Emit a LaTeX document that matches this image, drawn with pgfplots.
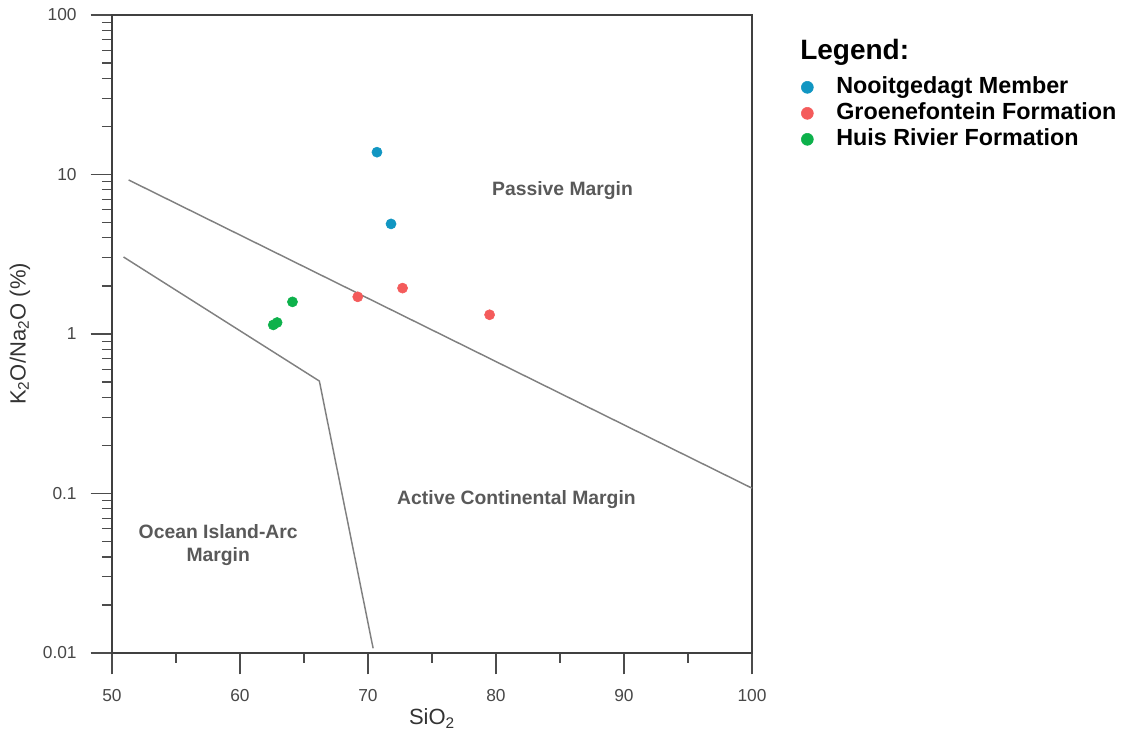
\documentclass[border=0pt]{standalone}
\usepackage{pgfplots}
\pgfplotsset{compat=1.18}
\usepackage{fontspec}
\setmainfont{Liberation Sans}
\definecolor{cblue}{HTML}{1196C2}
\definecolor{cred}{HTML}{F45B5B}
\definecolor{cgreen}{HTML}{0DB14B}
\definecolor{bline}{HTML}{808080}
\begin{document}
\begin{tikzpicture}
\useasboundingbox (-84pt,-61.5pt) rectangle (762pt,489.75pt);
\begin{axis}[
  at={(0,0)}, anchor=south west,
  scale only axis, width=480pt, height=478.5pt,
  xmin=50, xmax=100, ymode=log, ymin=0.01, ymax=100,
  xtick={50,60,...,100}, minor xtick={55,65,...,95},
  ytick={0.01,0.1,1,10,100}, yticklabels={0.01,0.1,1,10,100},
  tick align=outside, xtick pos=bottom, ytick pos=left,
  major tick length=16pt, minor tick length=7.5pt,
  axis line style={draw=black!75, line width=1.1pt},
  every tick/.style={black!70, line width=0.8pt},
  tick label style={font=\fontsize{13}{15}\selectfont, text=black!72},
  xticklabel style={yshift=-8pt},
  yticklabel style={xshift=-7pt},
  /pgf/number format/assume math mode=true,
  xlabel={SiO\textsubscript{2}}, ylabel={K\textsubscript{2}O/Na\textsubscript{2}O (\%)},
  label style={font=\fontsize{16.5}{19}\selectfont, text=black!80},
  xlabel style={at={(axis description cs:0.5,-0.1025)}, anchor=center},
  ylabel style={at={(axis description cs:-0.144,0.5)}, anchor=center},
  clip=false,
  legend style={at={(axis description cs:1.069,0.910)}, anchor=north west, draw=none, fill=none,
    font=\bfseries\fontsize{17.5}{20}\selectfont,
    nodes={inner sep=1pt, text height=12.5pt, text depth=3.5pt},
    row sep=1.5pt},
  legend cell align=left,
  legend image code/.code={\path (-5pt,0pt) (20.5pt,0pt); \draw[#1, mark size=4.5pt] plot coordinates {(0pt,0pt)};},
]
\addplot[bline, line width=1.1pt, forget plot] coordinates {(51.3,9.24) (100,0.108)};
\addplot[bline, line width=1.1pt, forget plot] coordinates {(50.9,3.04) (66.2,0.507) (70.4,0.0107)};
\addplot[only marks, mark=*, mark size=3.8pt, color=cblue, mark options={draw=cblue, fill=cblue}] coordinates {(70.7,13.8) (71.8,4.9)};
\addlegendentry{Nooitgedagt Member}
\addplot[only marks, mark=*, mark size=3.8pt, color=cred, mark options={draw=cred, fill=cred}] coordinates {(69.2,1.71) (72.7,1.94) (79.5,1.32)};
\addlegendentry{Groenefontein Formation}
\addplot[only marks, mark=*, mark size=3.8pt, color=cgreen, mark options={draw=cgreen, fill=cgreen}] coordinates {(64.1,1.59) (62.6,1.14) (62.9,1.18)};
\addlegendentry{Huis Rivier Formation}
\node[font=\bfseries\fontsize{14.5}{17}\selectfont, text=black!65] at (axis cs:85.2,7.9) {Passive Margin};
\node[font=\bfseries\fontsize{14.5}{17}\selectfont, text=black!65] at (axis cs:81.6,0.091) {Active Continental Margin};
\node[font=\bfseries\fontsize{14.5}{17}\selectfont, text=black!65, align=center] at (axis cs:58.3,0.0475) {Ocean Island-Arc\\Margin};
\node[font=\bfseries\fontsize{21}{25}\selectfont, anchor=west, inner sep=0pt] at (axis description cs:1.075,0.942) {Legend:};
\end{axis}
\end{tikzpicture}
\end{document}
